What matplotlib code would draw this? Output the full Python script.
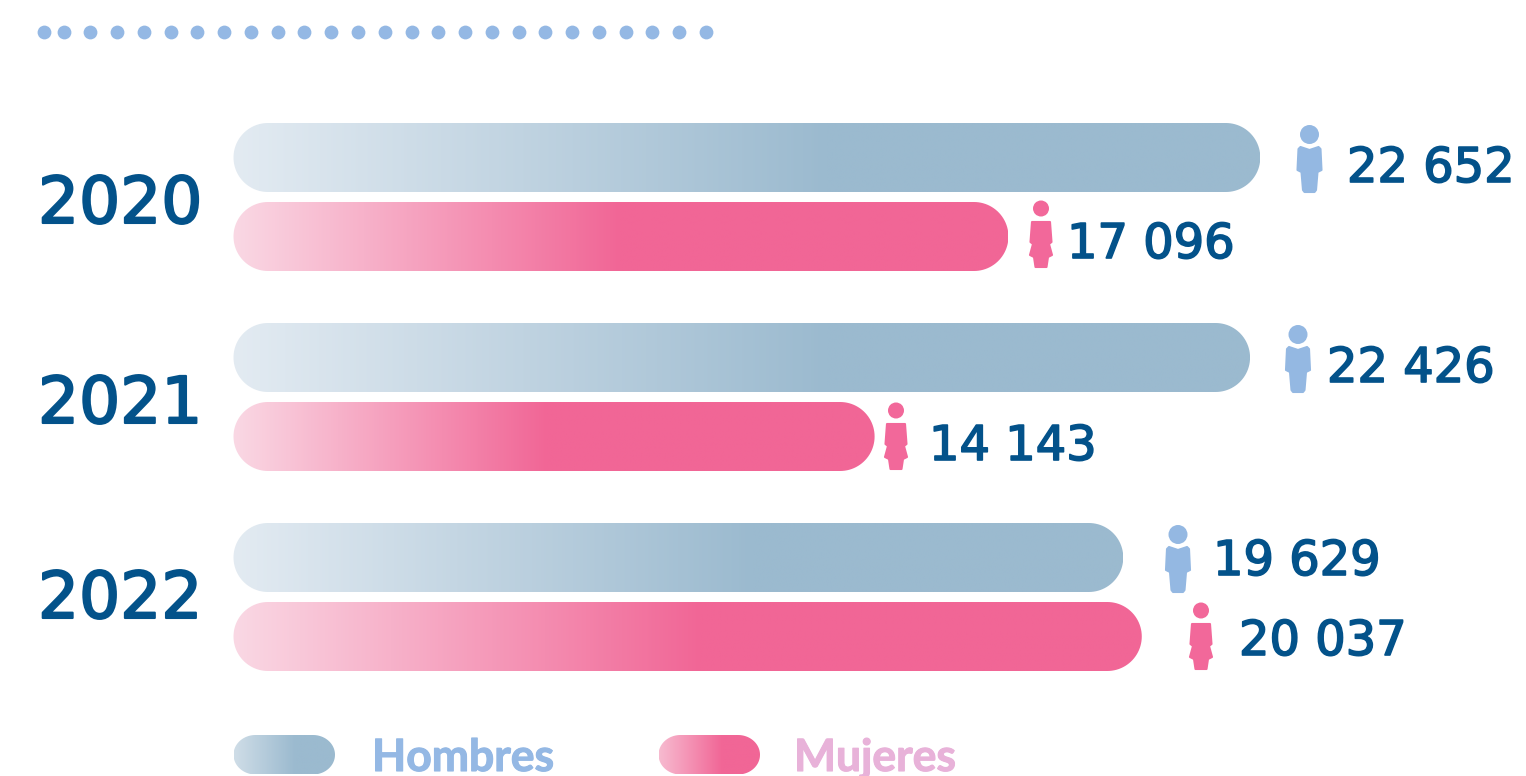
import numpy as np
import matplotlib
matplotlib.use("Agg")
import matplotlib.pyplot as plt
from matplotlib.colors import LinearSegmentedColormap
from matplotlib.patches import Circle, Polygon, PathPatch
from matplotlib.path import Path
import matplotlib.patheffects as pe

# ---- data ----
years = ["2020", "2021", "2022"]
hombres = [22652, 22426, 19629]
mujeres = [17096, 14143, 20037]
value_labels_h = ["22 652", "22 426", "19 629"]
value_labels_m = ["17 096", "14 143", "20 037"]
legend_labels = ["Hombres", "Mujeres"]

# ---- layout (pixels) ----
W, H = 1526, 776
X0 = 233.5
PX_PER_UNIT = 0.04533
BAR_H = 69
H_TOPS = [123, 323, 523]
M_TOPS = [202, 402, 602]
YEAR_BASE = [223, 423, 618]
H_LABEL_X = [1347, 1327, 1213]
M_LABEL_X = [1067, 929, 1239]
H_LABEL_BASE = [182, 382, 575]
M_LABEL_BASE = [258, 460, 655]
H_ICON_X = [1309.5, 1298, 1178]
M_ICON_X = [1041, 896, 1201]
H_ICON_TOP = [125, 325, 525]
M_ICON_TOP = [200, 402, 602]
H_SOLID = [0.58, 0.585, 0.585]
M_SOLID = [0.50, 0.49, 0.515]

NAVY = "#03528A"
H_LIGHT, H_DARK = "#E3EBF2", "#9BBACF"
M_LIGHT, M_DARK = "#FAD8E4", "#F16696"
H_TEXT, M_TEXT = "#94B8E4", "#E8B2D9"
H_ICON = "#94B8E2"
M_ICON = "#F2689A"

fig = plt.figure(figsize=(W / 100, H / 100), dpi=100, facecolor="white")
ax = fig.add_axes([0, 0, 1, 1])
xlim = (-X0 / PX_PER_UNIT, (W - X0) / PX_PER_UNIT)
ax.axis("off")
ov = fig.add_axes([0, 0, 1, 1], facecolor="none")
ov.axis("off")


def pill_path(x0, x1, top, height, rx, ry):
    t = np.linspace(0, np.pi / 2, 24)
    pts = []
    bot = top + height
    pts += list(zip(x1 - rx + rx * np.sin(t), top + ry - ry * np.cos(t)))
    pts += list(zip(x1 - rx + rx * np.cos(t), bot - ry + ry * np.sin(t)))
    pts += list(zip(x0 + rx - rx * np.sin(t), bot - ry + ry * np.cos(t)))
    pts += list(zip(x0 + rx - rx * np.cos(t), top + ry - ry * np.sin(t)))
    pts.append(pts[0])
    return Path(pts, closed=True)


def grad_bar(a, x0, x1, top, height, rx_px, ry_px, c0, c1, solid, scale):
    cmap = LinearSegmentedColormap.from_list("g", [c0, c1])
    g = np.clip(np.linspace(0, 1, 400) / solid, 0, 1).reshape(1, -1)
    im = a.imshow(g, extent=(x0, x1, top + height, top), cmap=cmap, vmin=0, vmax=1,
                  aspect="auto", interpolation="bilinear", zorder=2)
    p = PathPatch(pill_path(x0, x1, top, height, rx_px / scale, ry_px),
                  fc="none", ec="none", transform=a.transData)
    a.add_patch(p)
    im.set_clip_path(p)


for i in range(len(years)):
    grad_bar(ax, 0, hombres[i], H_TOPS[i], BAR_H, 34.5, 34.5, H_LIGHT, H_DARK, H_SOLID[i], PX_PER_UNIT)
    grad_bar(ax, 0, mujeres[i], M_TOPS[i], BAR_H, 34.5, 34.5, M_LIGHT, M_DARK, M_SOLID[i], PX_PER_UNIT)
ax.set_xlim(*xlim)
ax.set_ylim(H, 0)


def male(a, cx, top):
    a.add_patch(Circle((cx, top + 9.5), 9.5, fc=H_ICON, ec="none"))
    pts = [(-9, 22), (0, 25), (9, 22), (11, 24), (12, 45), (8, 47), (6.5, 65), (5, 67),
           (-5, 67), (-6.5, 65), (-8, 47), (-12, 45), (-11, 24)]
    a.add_patch(Polygon([(cx + x, top + y) for x, y in pts], closed=True, fc=H_ICON,
                        ec=H_ICON, lw=1.5, joinstyle="round"))


def female(a, cx, top):
    a.add_patch(Circle((cx, top + 8.5), 8, fc=M_ICON, ec="none"))
    pts = [(-9, 22), (9, 22), (10.5, 42), (8, 44), (11, 55), (7, 57), (5.5, 67),
           (-5.5, 67), (-7, 57), (-11, 55), (-8, 44), (-10.5, 42)]
    a.add_patch(Polygon([(cx + x, top + y) for x, y in pts], closed=True, fc=M_ICON,
                        ec=M_ICON, lw=1.5, joinstyle="round"))


year_fx = [pe.withStroke(linewidth=1.5, foreground=NAVY)]
num_fx = [pe.withStroke(linewidth=1.2, foreground=NAVY)]
for i, y in enumerate(years):
    ov.text(38, YEAR_BASE[i], y, fontsize=46.5, family="DejaVu Sans", color=NAVY,
            va="baseline", ha="left", path_effects=year_fx)
    male(ov, H_ICON_X[i], H_ICON_TOP[i])
    female(ov, M_ICON_X[i], M_ICON_TOP[i])
    ov.text(H_LABEL_X[i], H_LABEL_BASE[i], value_labels_h[i], fontsize=34.5, family="DejaVu Sans",
            color=NAVY, va="baseline", ha="left", path_effects=num_fx)
    ov.text(M_LABEL_X[i], M_LABEL_BASE[i], value_labels_m[i], fontsize=34.5, family="DejaVu Sans",
            color=NAVY, va="baseline", ha="left", path_effects=num_fx)

# dotted rule
dot_x = [43.5] + [63.5 + 26.77 * k for k in range(25)]
ov.scatter(dot_x, [32] * len(dot_x), s=(13.8 * 0.72) ** 2, color="#94B8E4", linewidths=0, zorder=3)

# legend
grad_bar(ov, 233.5, 335, 735, 39.5, 22, 19.75, "#CFDDE7", H_DARK, 0.6, 1)
grad_bar(ov, 658.5, 760, 735, 39.5, 22, 19.75, "#F7BBD0", M_DARK, 0.62, 1)
ov.set_xlim(0, W)
ov.set_ylim(H, 0)
for x, lab, col in zip([372, 794], legend_labels, [H_TEXT, M_TEXT]):
    ov.text(x, 771, lab, fontsize=32, family=["Lato", "DejaVu Sans"],
            weight="bold", color=col, va="baseline", ha="left",
            path_effects=[pe.withStroke(linewidth=0.8, foreground=col)])

fig.savefig("out.png", dpi=100, facecolor="white")
